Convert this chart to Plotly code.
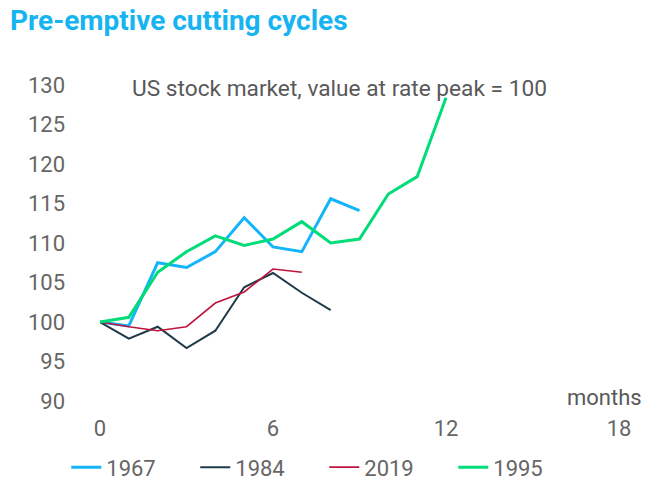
import plotly.graph_objects as go

months = list(range(0, 13))
s1967 = [100, 99.5, 107.5, 106.9, 108.9, 113.2, 109.5, 108.9, 115.6, 114.1]
s1984 = [100, 97.9, 99.4, 96.7, 98.9, 104.4, 106.2, 103.7, 101.5]
s2019 = [100, 99.4, 98.9, 99.4, 102.4, 103.8, 106.7, 106.3]
s1995 = [100, 100.6, 106.3, 108.9, 110.9, 109.7, 110.5, 112.7, 110.0, 110.5, 116.2, 118.4, 128.4]

x_ticks = [0, 6, 12, 18]
y_ticks = [90, 95, 100, 105, 110, 115, 120, 125, 130]

series = [
    ("1967", s1967, "#14B4FA", 3),
    ("1984", s1984, "#1E3A48", 2),
    ("2019", s2019, "#C0143C", 1.6),
    ("1995", s1995, "#00DC78", 3),
]

FONT = "Roboto"
fig = go.Figure()
for name, vals, color, w in series:
    fig.add_trace(go.Scatter(
        x=months[:len(vals)], y=vals, name=name, mode="lines",
        line=dict(color=color, width=w),
    ))

fig.update_layout(
    width=658, height=500,
    margin=dict(l=92, r=47, t=77, b=107),
    paper_bgcolor="white", plot_bgcolor="white",
    font=dict(family=FONT, size=22, color="#666666"),
    title=dict(text="<b>Pre-emptive cutting cycles</b>", x=0.003, xanchor="left",
               y=0.975, yanchor="middle", font=dict(family=FONT, size=28, color="#16B4F0")),
    showlegend=True,
    legend=dict(orientation="h", x=-0.065, xanchor="left", y=-0.21, yanchor="middle",
                entrywidth=84, font=dict(size=22, color="#666666"), tracegroupgap=0),
    xaxis=dict(range=[0, 18], tickvals=x_ticks, showgrid=False, zeroline=False,
               showline=False, ticks="", ticklabelstandoff=12),
    yaxis=dict(range=[90, 130], tickvals=y_ticks, showgrid=False, zeroline=False,
               showline=False, ticks="", ticklabelstandoff=34),
    annotations=[
        dict(text="US stock market, value at rate peak = 100", xref="paper", yref="paper",
             x=(130 - 100) / 519, y=0.99, xanchor="left", yanchor="middle", showarrow=False,
             font=dict(size=22.7, color="#595959")),
        dict(text="months", xref="paper", yref="paper",
             x=(604 - 100) / 519, y=(401 - 397) / 316, xanchor="center", yanchor="middle",
             showarrow=False, font=dict(size=22, color="#595959")),
    ],
)

fig.write_html("out.html")
